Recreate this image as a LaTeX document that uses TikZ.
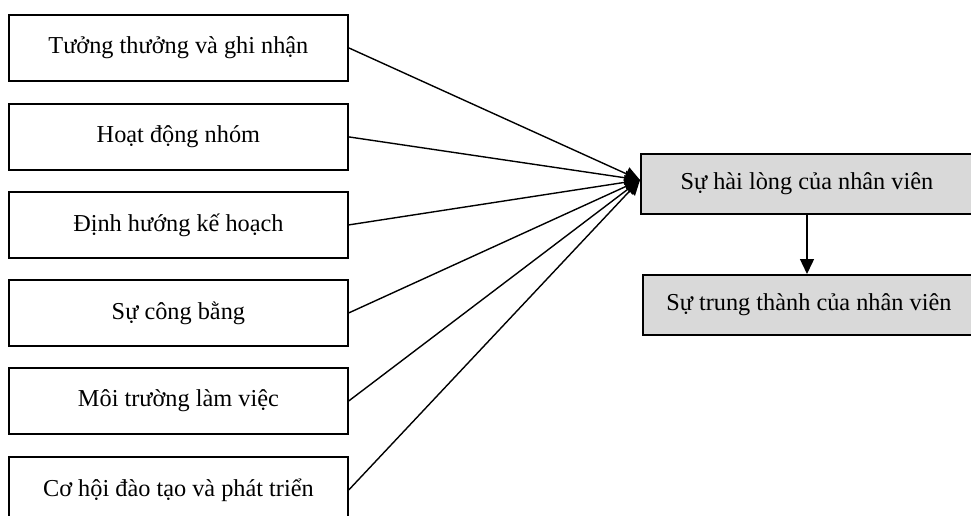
\documentclass[tikz,border=0pt]{standalone}
\usepackage{fontspec}
\setmainfont{Liberation Serif}
\usetikzlibrary{arrows.meta}
\definecolor{boxgray}{HTML}{D9D9D9}
\tikzset{
  leftbox/.style={draw, line width=1.8pt, minimum width=339pt, minimum height=66pt, anchor=north west, inner sep=0pt, font=\fontsize{24.3}{29}\selectfont},
  rightbox/.style={draw, line width=1.8pt, fill=boxgray, minimum width=332pt, minimum height=60pt, anchor=north west, inner sep=0pt, font=\fontsize{24.3}{29}\selectfont},
  conn/.style={line width=1.4pt, -{Triangle[length=15pt,width=14pt]}}
}
\begin{document}
\begin{tikzpicture}[x=1pt,y=-1pt]
\useasboundingbox (0,0) rectangle (971,515);
\node[leftbox] (a) at (8,14) {Tưởng thưởng và ghi nhận};
\node[leftbox] (b) at (8,103) {Hoạt động nhóm};
\node[leftbox] (c) at (8,191) {Định hướng kế hoạch};
\node[leftbox] (d) at (8,279) {Sự công bằng};
\node[leftbox] (e) at (8,367) {Môi trường làm việc};
\node[leftbox] (f) at (8,456) {Cơ hội đào tạo và phát triển};
\node[rightbox] (s) at (640,153) {Sự hài lòng của nhân viên};
\node[rightbox] (t) at (642,274) {Sự trung thành của nhân viên};
\coordinate (sin) at (640,180);
\foreach \n in {a,b,c,d,e,f}
  \draw[conn] (\n.east) -- (sin);
\draw[conn] (s.south -| 807,0) -- (t.north -| 807,0);
\end{tikzpicture}
\end{document}
